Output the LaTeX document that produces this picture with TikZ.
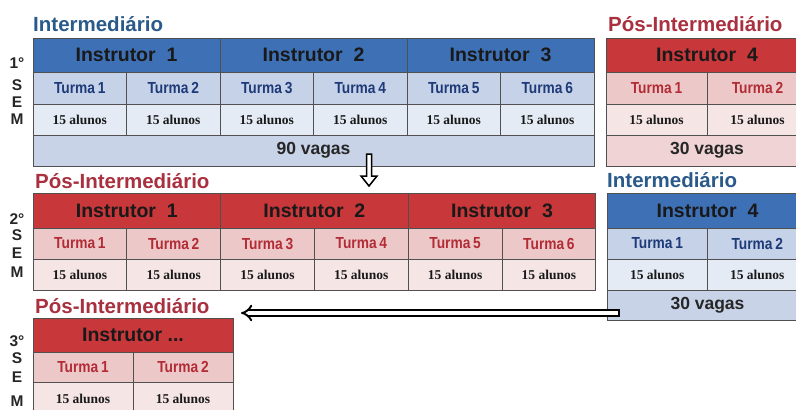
\documentclass[tikz,border=0pt]{standalone}
\usepackage{fontspec}
\setmainfont{Liberation Sans}
\newfontfamily\alunosfont{Liberation Serif}
\newfontfamily\turmafont[FakeStretch=0.86]{Liberation Sans}
\usetikzlibrary{arrows.meta}
\definecolor{bheadc}{RGB}{62,112,182}
\definecolor{bturmac}{RGB}{197,210,231}
\definecolor{balunosc}{RGB}{228,235,245}
\definecolor{bvagasc}{RGB}{200,211,232}
\definecolor{rheadc}{RGB}{200,55,58}
\definecolor{rturmac}{RGB}{237,200,201}
\definecolor{ralunosc}{RGB}{246,229,229}
\definecolor{rvagasc}{RGB}{240,211,212}
\definecolor{btxt}{RGB}{31,58,120}
\definecolor{rtxt}{RGB}{178,44,53}
\definecolor{btitle}{RGB}{42,90,138}
\definecolor{rtitle}{RGB}{168,48,63}
\definecolor{gridc}{RGB}{80,80,80}
\begin{document}
\begin{tikzpicture}[x=1pt,y=-1pt,
  cell/.style={draw=gridc, line width=1pt, anchor=north west, inner sep=0pt, outer sep=0pt, align=center},
  hdr/.style={cell, font=\fontsize{19.5}{19.5}\selectfont\bfseries, text=black!90},
  bH/.style={hdr, fill=bheadc},
  rH/.style={hdr, fill=rheadc},
  trm/.style={cell, font=\turmafont\fontsize{16}{16}\selectfont\bfseries},
  bT/.style={trm, fill=bturmac, text=btxt},
  rT/.style={trm, fill=rturmac, text=rtxt},
  aln/.style={cell, font=\alunosfont\fontsize{13.5}{13.5}\selectfont\bfseries, text=black!90},
  bA/.style={aln, fill=balunosc},
  rA/.style={aln, fill=ralunosc},
  vag/.style={cell, font=\fontsize{17.5}{17.5}\selectfont\bfseries, text=black!85},
  bV/.style={vag, fill=bvagasc},
  rV/.style={vag, fill=rvagasc},
  ttl/.style={anchor=base west, inner sep=0pt, font=\fontsize{20.5}{20.5}\selectfont\bfseries},
  semlbl/.style={anchor=base, inner sep=0pt, font=\fontsize{15.5}{15.5}\selectfont\bfseries, text=black!85},
  hollow/.style={draw=black, line width=1.5pt, fill=white, line join=miter},
  longarrow/.style={draw=black, line width=1.9pt, double=white, double distance=3.6pt, -{Implies}}
]
\useasboundingbox (0,0) rectangle (796,410);
\begin{scope}
\clip (0,0) rectangle (796,410);
% ---------- 1st semester, Intermediario (blue) ----------
\node[ttl, text=btitle] (tA) at (33,31) {Intermediário};
\foreach \i/\x in {1/33,2/220,3/407}
  \node[bH, minimum width=187pt, minimum height=34pt] (A-h\i) at (\x,38) {Instrutor~~\i};
\foreach \i/\x in {1/33,2/126.5,3/220,4/313.5,5/407,6/500.5}{
  \node[bT, minimum width=93.5pt, minimum height=32pt] (A-t\i) at (\x,72) {Turma\,\i};
  \node[bA, minimum width=93.5pt, minimum height=31pt] (A-a\i) at (\x,104) {15 alunos};
}
\node[bV, minimum width=561pt, minimum height=31pt] (A-v) at (33,135) {90 vagas};
% ---------- 1st semester, Pos-Intermediario (red) ----------
\node[ttl, text=rtitle] (tB) at (608,31) {Pós-Intermediário};
\node[rH, minimum width=202pt, minimum height=34pt] (B-h) at (606,38) {Instrutor~~4};
\foreach \i/\x in {1/606,2/707}{
  \node[rT, minimum width=101pt, minimum height=32pt] (B-t\i) at (\x,72) {Turma\,\i};
  \node[rA, minimum width=101pt, minimum height=31pt] (B-a\i) at (\x,104) {15 alunos};
}
\node[rV, minimum width=202pt, minimum height=31pt] (B-v) at (606,135) {30 vagas};
% ---------- 2nd semester, Pos-Intermediario (red) ----------
\node[ttl, text=rtitle] (tC) at (35,188) {Pós-Intermediário};
\foreach \i/\x in {1/33,2/220.6,3/408.2}
  \node[rH, minimum width=187.6pt, minimum height=35pt] (C-h\i) at (\x,193) {Instrutor~~\i};
\foreach \i/\x in {1/33,2/126.8,3/220.6,4/314.4,5/408.2,6/502}{
  \node[rT, minimum width=93.8pt, minimum height=31pt] (C-t\i) at (\x,228) {Turma\,\i};
  \node[rA, minimum width=93.8pt, minimum height=31pt] (C-a\i) at (\x,259) {15 alunos};
}
% ---------- 2nd semester, Intermediario (blue) ----------
\node[ttl, text=btitle] (tD) at (607,187) {Intermediário};
\node[bH, minimum width=201pt, minimum height=35pt] (D-h) at (607,193) {Instrutor~~4};
\foreach \i/\x in {1/607,2/707}{
  \node[bT, minimum width=100.5pt, minimum height=31pt] (D-t\i) at (\x,228) {Turma\,\i};
  \node[bA, minimum width=100.5pt, minimum height=31pt] (D-a\i) at (\x,259) {15 alunos};
}
\node[bV, minimum width=201pt, minimum height=30pt] (D-v) at (607,290) {30 vagas};
% ---------- 3rd semester, Pos-Intermediario (red) ----------
\node[ttl, text=rtitle] (tE) at (35,313) {Pós-Intermediário};
\node[rH, minimum width=200pt, minimum height=34pt] (E-h) at (33,318) {Instrutor ...};
\foreach \i/\x in {1/33,2/133}{
  \node[rT, minimum width=100pt, minimum height=30pt] (E-t\i) at (\x,352) {Turma\,\i};
  \node[rA, minimum width=100pt, minimum height=33pt] (E-a\i) at (\x,382) {15 alunos};
}
% ---------- semester labels ----------
\node[semlbl] (s1n) at (17,68) {1°};
\node[semlbl] (s1s) at (17,90) {S};
\node[semlbl] (s1e) at (17,107) {E};
\node[semlbl] (s1m) at (17,124) {M};
\node[semlbl] (s2n) at (17,224) {2°};
\node[semlbl] (s2s) at (17,240) {S};
\node[semlbl] (s2e) at (17,258) {E};
\node[semlbl] (s2m) at (17,277) {M};
\node[semlbl] (s3n) at (17,346) {3°};
\node[semlbl] (s3s) at (17,363) {S};
\node[semlbl] (s3e) at (17,382) {E};
\node[semlbl] (s3m) at (17,406) {M};
% ---------- arrows ----------
\coordinate (d1) at (369,154);
\coordinate (d2) at (369,186);
\draw[hollow] (d1) ++(-2.5,0) -- ++(0,22) -- ++(-5.5,0) -- (d2) -- ++(8,-10) -- ++(-5.5,0) -- ++(0,-22) -- cycle;
\coordinate (b1) at (619,313);
\coordinate (b2) at (241,313);
\draw[longarrow] (b1) -- (b2);
\draw[draw=black, line width=1.9pt] (b1) ++(0,-3.7) -- ++(0,7.4);
\end{scope}
\end{tikzpicture}
\end{document}
